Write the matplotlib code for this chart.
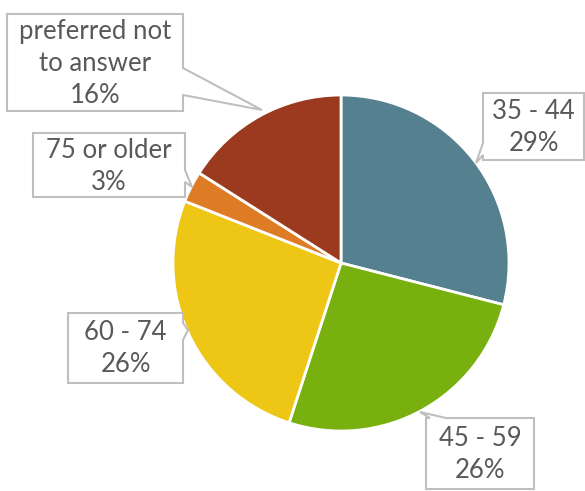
import matplotlib.pyplot as plt
from matplotlib.patches import Polygon

labels = ["35 - 44", "45 - 59", "60 - 74", "75 or older", "preferred not\nto answer"]
shares = [29, 26, 26, 3, 16]
colors = ["#558090", "#77B00F", "#EEC615", "#DE7B25", "#9B3A1E"]

W, H = 585, 491

fig = plt.figure(figsize=(W / 100, H / 100), dpi=100)
ax = fig.add_axes([0, 0, 1, 1])

# pie drawn in pixel space; y axis is flipped, so counterclock=True gives clockwise on screen
ax.pie(shares, colors=colors, startangle=-90, counterclock=True,
       center=(341, 263), radius=168, frame=True,
       wedgeprops=dict(edgecolor="white", linewidth=2))
ax.set_xlim(0, W)
ax.set_ylim(H, 0)
ax.axis("off")


def callout(x0, y0, x1, y1, side, a, b, tip):
    # rectangle with a pointer notch on one side, points in pixel coords
    if side == "right":
        pts = [(x0, y0), (x1, y0), (x1, a), tip, (x1, b), (x1, y1), (x0, y1)]
    elif side == "left":
        pts = [(x0, y0), (x1, y0), (x1, y1), (x0, y1), (x0, b), tip, (x0, a)]
    else:  # top
        pts = [(x0, y0), (a, y0), tip, (b, y0), (x1, y0), (x1, y1), (x0, y1)]
    ax.add_patch(Polygon(pts, closed=True, facecolor="white",
                         edgecolor="#BFBFBF", linewidth=1.5, zorder=3))


# (box, pointer side, pointer base, pointer tip)
boxes = [
    ((483, 93, 584, 160), "left", 143, 155, (476, 163)),
    ((426, 418, 534, 489), "top", 430, 446, (420, 412)),
    ((68, 313, 183, 383), "right", 323, 340, (188, 330)),
    ((33, 133, 185, 197), "right", 170, 182, (192, 187)),
    ((7, 14, 183, 111), "right", 68, 95, (262, 110)),
]

for lab, s, (bx, side, a, b, tip) in zip(labels, shares, boxes):
    x0, y0, x1, y1 = bx
    callout(x0, y0, x1, y1, side, a, b, tip)
    ax.text((x0 + x1) / 2, (y0 + y1) / 2 + 1, f"{lab}\n{s}%", ha="center", va="center",
            fontsize=18.5, color="#595959", family="Lato", linespacing=1.35, zorder=4)

fig.savefig("out.png", dpi=100)
